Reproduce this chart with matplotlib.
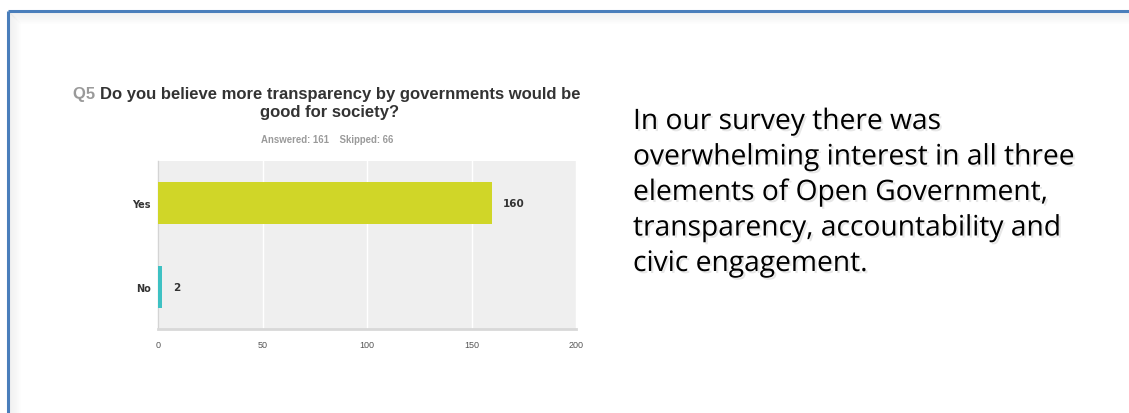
import matplotlib.pyplot as plt
import matplotlib.patheffects as pe
from matplotlib.lines import Line2D
import numpy as np

# data
categories = ["Yes", "No"]
counts = [160, 2]
bar_colors = ["#D0D628", "#3EC1C3"]
x_ticks = [0, 50, 100, 150, 200]
answered = 161
skipped = 66
question_id = "Q5"
question = "Do you believe more transparency by governments would be"
question2 = "good for society?"
side_text = ["In our survey there was",
             "overwhelming interest in all three",
             "elements of Open Government,",
             "transparency, accountability and",
             "civic engagement."]

W, H = 1129, 414
fig = plt.figure(figsize=(W / 100, H / 100), dpi=100)
fig.patch.set_facecolor("white")

# slide frame: blue border on top and left with a soft inner shadow
for i in range(12):
    a = 0.10 * (1 - i / 12)
    fig.add_artist(Line2D([9 / W + i / W, 1], [1 - (13 + i) / H] * 2, color="#999999",
                          alpha=a, lw=1, transform=fig.transFigure))
    fig.add_artist(Line2D([(9 + i) / W] * 2, [0, 1 - (13 + i) / H], color="#999999",
                          alpha=a, lw=1, transform=fig.transFigure))
fig.add_artist(Line2D([7.5 / W, 1], [1 - 11.5 / H] * 2, color="#4A7EBB", lw=2.2,
                      transform=fig.transFigure, solid_capstyle="butt"))
fig.add_artist(Line2D([7.5 / W] * 2, [0, 1 - 11.5 / H], color="#4A7EBB", lw=2.2,
                      transform=fig.transFigure, solid_capstyle="butt"))

# chart
ax = fig.add_axes([158 / W, 1 - 330 / H, (576 - 158) / W, (330 - 162) / H])
ax.set_facecolor("#EFEFEF")
ypos = np.arange(len(categories))
ax.barh(ypos, counts, height=0.5, color=bar_colors, zorder=3)
ax.set_ylim(len(categories) - 0.5, -0.5)
ax.set_xlim(0, 200)
ax.set_xticks(x_ticks)
ax.set_xticklabels([str(t) for t in x_ticks], fontsize=6.5, color="#555555",
                   family="Liberation Sans")
ax.set_yticks(ypos)
ax.set_yticklabels(categories, fontsize=7, fontweight="bold", color="#333333",
                   family="DejaVu Sans")
ax.tick_params(length=0)
ax.tick_params(axis="y", pad=5)
ax.tick_params(axis="x", pad=8)
ax.grid(axis="x", color="white", lw=1, zorder=1)
for s in ["top", "right"]:
    ax.spines[s].set_visible(False)
ax.spines["left"].set_color("#D4D4D4")
ax.spines["left"].set_linewidth(1)
ax.spines["bottom"].set_color("#D8D8D8")
ax.spines["bottom"].set_linewidth(2)
for y, v in zip(ypos, counts):
    ax.text(v + 5, y, str(v), va="center", ha="left", fontsize=7.5, fontweight="bold",
            color="#333333", family="DejaVu Sans")

# title
t = fig.text(73 / W, 1 - 95 / H, question_id + " ", fontsize=12, fontweight="bold",
             color="#9A9A9A", family="Liberation Sans", va="center")
fig.canvas.draw()
bb = t.get_window_extent()
fig.text(bb.x1 / W, 1 - 95 / H, question, fontsize=12, fontweight="bold",
         color="#333333", family="Liberation Sans", va="center")
fig.text(330 / W, 1 - 112 / H, question2, fontsize=12, fontweight="bold",
         color="#333333", family="Liberation Sans", va="center", ha="center")
fig.text(327 / W, 1 - 140 / H, "Answered: %d    Skipped: %d" % (answered, skipped),
         fontsize=6.9, fontweight="bold", color="#9A9A9A", family="Liberation Sans",
         va="center", ha="center")

# side text
shadow = [pe.SimplePatchShadow(offset=(1.5, -1.5), shadow_rgbFace="#888888", alpha=0.2),
          pe.Normal()]
for i, line in enumerate(side_text):
    fig.text(633 / W, 1 - (123 + 35.5 * i) / H, line, fontsize=20.3, color="black",
             family="Open Sans", va="center", ha="left", path_effects=shadow)

fig.savefig("out.png", dpi=100)
